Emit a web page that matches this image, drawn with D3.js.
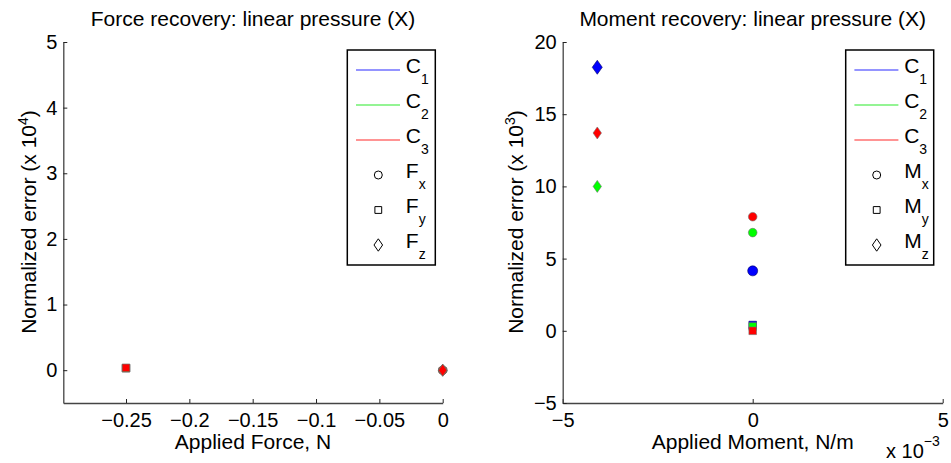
<!DOCTYPE html>
<html>
<head>
<meta charset="utf-8">
<script src="https://cdn.jsdelivr.net/npm/d3@7"></script>
<style>
  body { margin: 0; background: #fff; }
  svg text { font-family: "Liberation Sans", Arial, Helvetica, sans-serif; fill: #000; }
</style>
</head>
<body>
<div id="chart"></div>
<script>
// ---- data ----
var cases = ["C1", "C2", "C3"];
var caseColors = ["#0000ff", "#00ff00", "#ff0000"];
var legendLineColors = ["#7070ff", "#70f070", "#ff7070"];

// force panel: applied force (N) and normalized error (x 10^4) per case
var forceComponents = ["x", "y", "z"];
var forceApplied = [0, -0.25, 0];
var forceError = [
    [0, 0, 0],           // Fx  (C1, C2, C3)
    [0.03, 0.03, 0.035], // Fy
    [0, 0, 0]            // Fz
];
var forceXTicks = [-0.25, -0.2, -0.15, -0.1, -0.05, 0];
var forceYTicks = [0, 1, 2, 3, 4, 5];

// moment panel: applied moment (x 10^-3 N/m) and normalized error (x 10^3)
var momentComponents = ["x", "y", "z"];
var momentApplied = [0, 0, -4.09];
var momentError = [
    [4.15, 6.8, 7.9],   // Mx
    [0.4, 0.3, 0.0],    // My
    [18.25, 10.0, 13.7] // Mz
];
var momentXTicks = [-5, 0, 5];
var momentYTicks = [-5, 0, 5, 10, 15, 20];

var shapes = ["circle", "square", "diamond"];

var svgWidth = 951;
var svgHeight = 463;

var svg = d3.select("#chart")
    .append("svg")
    .attr("width", svgWidth)
    .attr("height", svgHeight);

function fmt(d) {
    return String(d).replace("-", "\u2212");
}

function markerPath(shape, big) {
    if (shape == "circle") {
        var r = big ? 5 : 4.3;
        return `M${r},0A${r},${r},0,1,1,${-r},0A${r},${r},0,1,1,${r},0Z`;
    }
    if (shape == "square") {
        var s = 3.8;
        return `M${-s},${-s}H${s}V${s}H${-s}Z`;
    }
    var w = big ? 5 : 4.2, h = big ? 7 : 6;
    return `M0,${-h}L${w},0L0,${h}L${-w},0Z`;
}

function legendPath(shape) {
    if (shape == "circle") return "M4,0A4,4,0,1,1,-4,0A4,4,0,1,1,4,0Z";
    if (shape == "square") return "M-3.4,-3.4H3.4V3.4H-3.4Z";
    return "M0,-6.2L4.3,0L0,6.2L-4.3,0Z";
}

function drawPanel(opt) {
    var g = svg.append("g");
    var x = d3.scaleLinear().domain(opt.xDomain).range([opt.left, opt.right]);
    var y = d3.scaleLinear().domain(opt.yDomain).range([403, 42]);

    var xAxis = d3.axisBottom(x).tickValues(opt.xTicks).tickFormat(fmt)
        .tickSizeInner(-4).tickSizeOuter(0).tickPadding(10);
    var yAxis = d3.axisLeft(y).tickValues(opt.yTicks).tickFormat(fmt)
        .tickSizeInner(-4).tickSizeOuter(0).tickPadding(6);

    var gx = g.append("g").attr("transform", "translate(0,403)").call(xAxis);
    var gy = g.append("g").attr("transform", `translate(${opt.left},0)`).call(yAxis);
    [gx, gy].forEach(function(a) {
        a.select(".domain").attr("stroke", "#444").attr("stroke-width", 1.3);
        a.selectAll(".tick line").attr("stroke", "#222");
        a.selectAll(".tick text").style("font-size", "20px").attr("fill", "#000");
    });

    // markers, C1 first so C3 ends on top
    opt.components.forEach(function(comp, ci) {
        cases.forEach(function(c, k) {
            var big = opt.bigC1 && k == 0;
            g.append("path")
                .attr("d", markerPath(shapes[ci], big))
                .attr("transform", `translate(${x(opt.applied[ci])},${y(opt.errors[ci][k])})`)
                .attr("fill", caseColors[k])
                .attr("stroke", big ? "#000060" : "#707070")
                .attr("stroke-width", 0.6);
        });
    });

    var cx = (opt.left + opt.right) / 2;
    g.append("text")
        .attr("x", cx).attr("y", 26)
        .attr("text-anchor", "middle")
        .style("font-size", "21px")
        .text(opt.title);

    g.append("text")
        .attr("x", cx).attr("y", 449)
        .attr("text-anchor", "middle")
        .style("font-size", "21px")
        .text(opt.xLabel);

    var yl = g.append("text")
        .attr("transform", `translate(${opt.yLabelX},222) rotate(-90)`)
        .attr("text-anchor", "middle")
        .style("font-size", "21px");
    yl.append("tspan").text("Normalized error (x 10");
    yl.append("tspan").attr("dy", -8).style("font-size", "14px").text(opt.yExp);
    yl.append("tspan").attr("dy", 8).text(")");

    if (opt.xExp) {
        var xe = g.append("text")
            .attr("x", 886).attr("y", 458)
            .style("font-size", "20px");
        xe.append("tspan").text("x 10");
        xe.append("tspan").attr("dy", -12).style("font-size", "14px").text(opt.xExp);
    }

    // legend
    var lx = opt.legendX;
    var lg = g.append("g").attr("transform", `translate(${lx},50)`);
    lg.append("rect")
        .attr("width", 88).attr("height", 215)
        .attr("fill", "#fff").attr("stroke", "#000").attr("stroke-width", 1.5);
    var rows = cases.map(function(c, k) {
        return { kind: "line", color: legendLineColors[k], main: "C", sub: String(k + 1) };
    }).concat(opt.components.map(function(comp, ci) {
        return { kind: "marker", shape: shapes[ci], main: opt.letter, sub: comp };
    }));
    rows.forEach(function(r, i) {
        var ry = 20 + i * 35;
        if (r.kind == "line") {
            lg.append("line")
                .attr("x1", 8.7).attr("x2", 52.7)
                .attr("y1", ry).attr("y2", ry)
                .attr("stroke", r.color).attr("stroke-width", 1.5);
        } else {
            lg.append("path")
                .attr("d", legendPath(r.shape))
                .attr("transform", `translate(31,${ry})`)
                .attr("fill", "none").attr("stroke", "#000").attr("stroke-width", 1);
        }
        var t = lg.append("text")
            .attr("x", 58.5).attr("y", ry + 3)
            .style("font-size", "21px");
        t.append("tspan").text(r.main);
        t.append("tspan").attr("dy", 11).style("font-size", "14px").text(r.sub);
    });
}

drawPanel({
    left: 63.3, right: 442.7,
    xDomain: [-0.2995, 0], yDomain: [-0.5, 5],
    xTicks: forceXTicks, yTicks: forceYTicks,
    components: forceComponents, applied: forceApplied, errors: forceError,
    title: "Force recovery: linear pressure (X)",
    xLabel: "Applied Force, N",
    yLabelX: 36, yExp: "4",
    legendX: 347.3, letter: "F", bigC1: false
});

drawPanel({
    left: 562.7, right: 942.7,
    xDomain: [-5, 5], yDomain: [-5, 20],
    xTicks: momentXTicks, yTicks: momentYTicks,
    components: momentComponents, applied: momentApplied, errors: momentError,
    title: "Moment recovery: linear pressure (X)",
    xLabel: "Applied Moment, N/m",
    yLabelX: 523, yExp: "3", xExp: "\u22123",
    legendX: 845.7, letter: "M", bigC1: true
});
</script>
</body>
</html>
